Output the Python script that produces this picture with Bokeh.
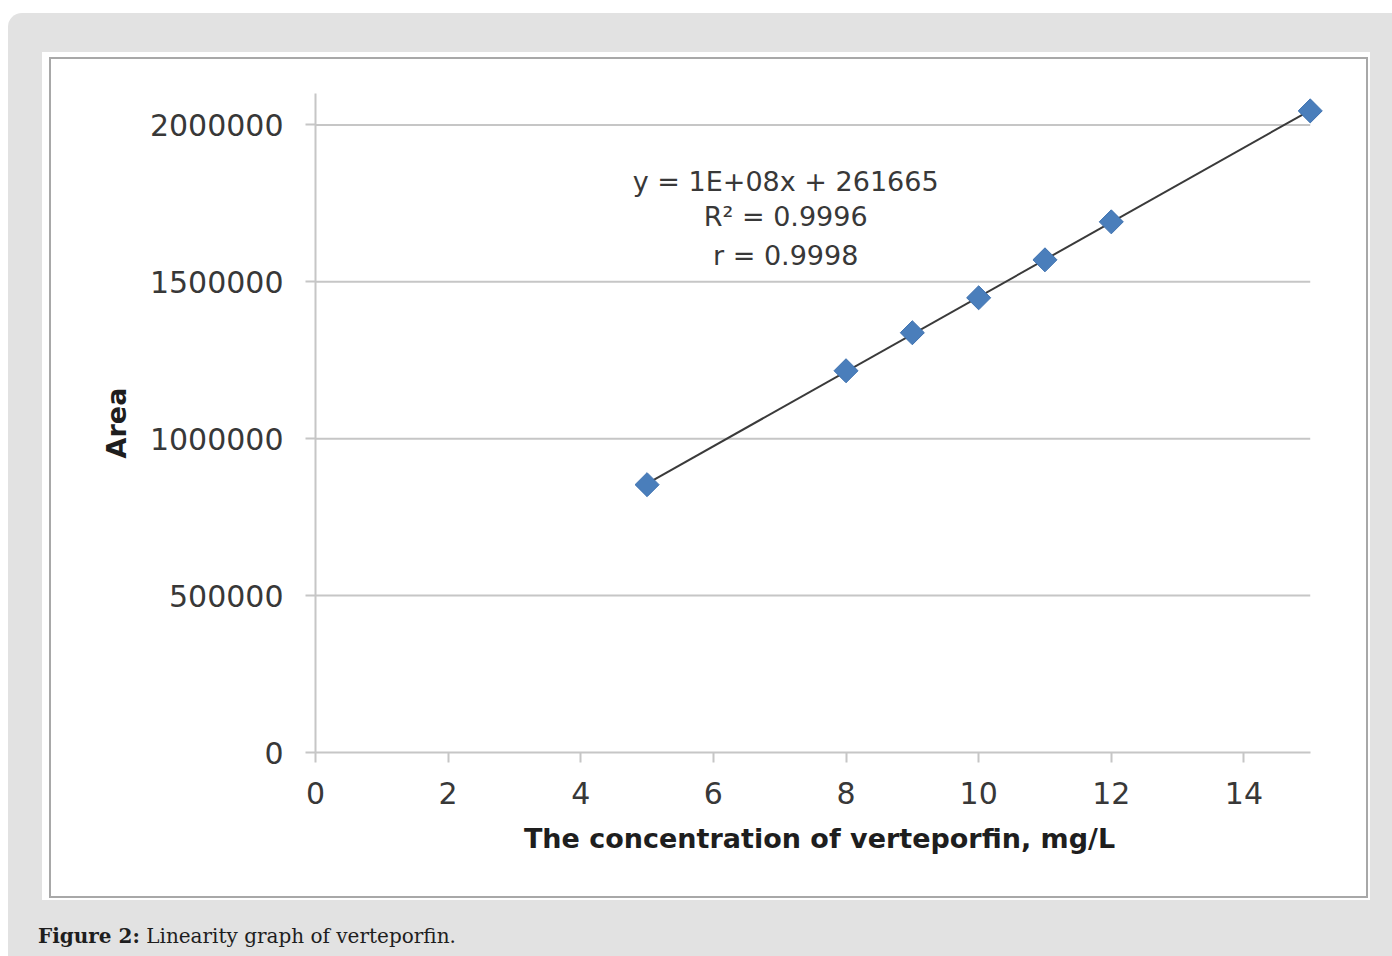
import numpy as np
from bokeh.plotting import figure
from bokeh.models import Label, Div, FixedTicker, Range1d, NumeralTickFormatter, Spacer
from bokeh.layouts import column
from bokeh.embed import file_html
from bokeh.resources import INLINE

# ---- data ----
conc = [5, 8, 9, 10, 11, 12, 15]                       # mg/L
area = [853500, 1216500, 1337600, 1449000, 1570000, 1691000, 2044600]
x_ticks = [0, 2, 4, 6, 8, 10, 12, 14]
y_ticks = [0, 500000, 1000000, 1500000, 2000000]
eq_lines = ["y = 1E+08x + 261665", "R\u00b2 = 0.9996", "r = 0.9998"]
x_title = "The concentration of verteporfin, mg/L"
y_title = "Area"
caption_bold = "Figure 2:"
caption_text = " Linearity graph of verteporfin."

# axis limits (the frame is a bit wider so the last marker is not clipped)
X_MIN, X_MAX = 0, 15
Y_MIN, Y_MAX = 0, 2100000

FONT = "DejaVu Sans"
TICK_COL = "#383838"
GRID_COL = "#c6c6c6"

p = figure(width=1315, height=837,
           x_range=Range1d(X_MIN, X_MAX + 0.2), y_range=Range1d(Y_MIN, Y_MAX),
           output_backend="svg", toolbar_location=None,
           min_border_left=264, min_border_right=43,
           min_border_top=34, min_border_bottom=144,
           background_fill_color="white", border_fill_color="white",
           outline_line_color=None)
p.styles = {"outline": "2px solid #a8a8a8"}

# axes
for ax in (p.xaxis[0], p.yaxis[0]):
    ax.axis_line_color = GRID_COL
    ax.axis_line_width = 2
    ax.major_tick_line_color = GRID_COL
    ax.major_tick_line_width = 2
    ax.major_tick_in = 0
    ax.major_tick_out = 10
    ax.minor_tick_line_color = None
    ax.major_label_text_font = FONT
    ax.major_label_text_font_size = "30px"
    ax.major_label_text_color = TICK_COL
    ax.axis_label_text_font = FONT
    ax.axis_label_text_font_size = "27px"
    ax.axis_label_text_font_style = "bold"
    ax.axis_label_text_color = "#1e1e1e"

p.xaxis[0].ticker = FixedTicker(ticks=x_ticks)
p.xaxis[0].bounds = (X_MIN, X_MAX)
p.yaxis[0].ticker = FixedTicker(ticks=y_ticks)
p.yaxis[0].formatter = NumeralTickFormatter(format="0")
p.xaxis[0].axis_label = x_title
p.yaxis[0].axis_label = y_title
p.xaxis[0].major_label_standoff = 19
p.yaxis[0].major_label_standoff = 22
p.xaxis[0].axis_label_standoff = 16
p.yaxis[0].axis_label_standoff = 15

# horizontal gridlines, limited to the axis extent
p.xgrid.visible = False
p.ygrid.visible = False
gy = y_ticks[1:]
p.segment(x0=[X_MIN] * len(gy), x1=[X_MAX] * len(gy), y0=gy, y1=gy,
          line_color=GRID_COL, line_width=2)

# trend line (least squares fit of the data)
k, b = np.polyfit(conc, area, 1)
xs = [min(conc), max(conc)]
p.line(xs, [k * v + b for v in xs], line_color="#3a3a3a", line_width=2)

# markers (diamonds)
p.scatter(conc, area, marker="square", size=17, angle=np.pi / 4,
          fill_color="#4a7ebb", line_color="#3f72b0", line_width=1)

# equation text
eq_y = [1821000, 1707000, 1583000]
for t, yy in zip(eq_lines, eq_y):
    p.add_layout(Label(x=7.09, y=yy, text=t, text_align="center",
                       text_baseline="middle", text_font=FONT,
                       text_font_size="27px", text_color=TICK_COL))

white_box = column(p, styles={"background-color": "white"},
                   margin=(39, 0, 0, 34))
p.margin = (7, 4, 4, 9)

caption = Div(text=f"<b>{caption_bold}</b>{caption_text}",
              styles={"font-family": "DejaVu Serif", "font-size": "20px",
                      "color": "#1e1e1e", "white-space": "nowrap"},
              margin=(22, 0, 0, 30), width=800, height=34)

gray = column(white_box, caption, width=1384, height=943,
              margin=(0, 0, 0, 8),
              styles={"background-color": "#e2e2e2",
                      "border-top-left-radius": "14px"})

page = column(Spacer(height=13), gray)

open("out.html", "w").write(file_html(page, INLINE))
